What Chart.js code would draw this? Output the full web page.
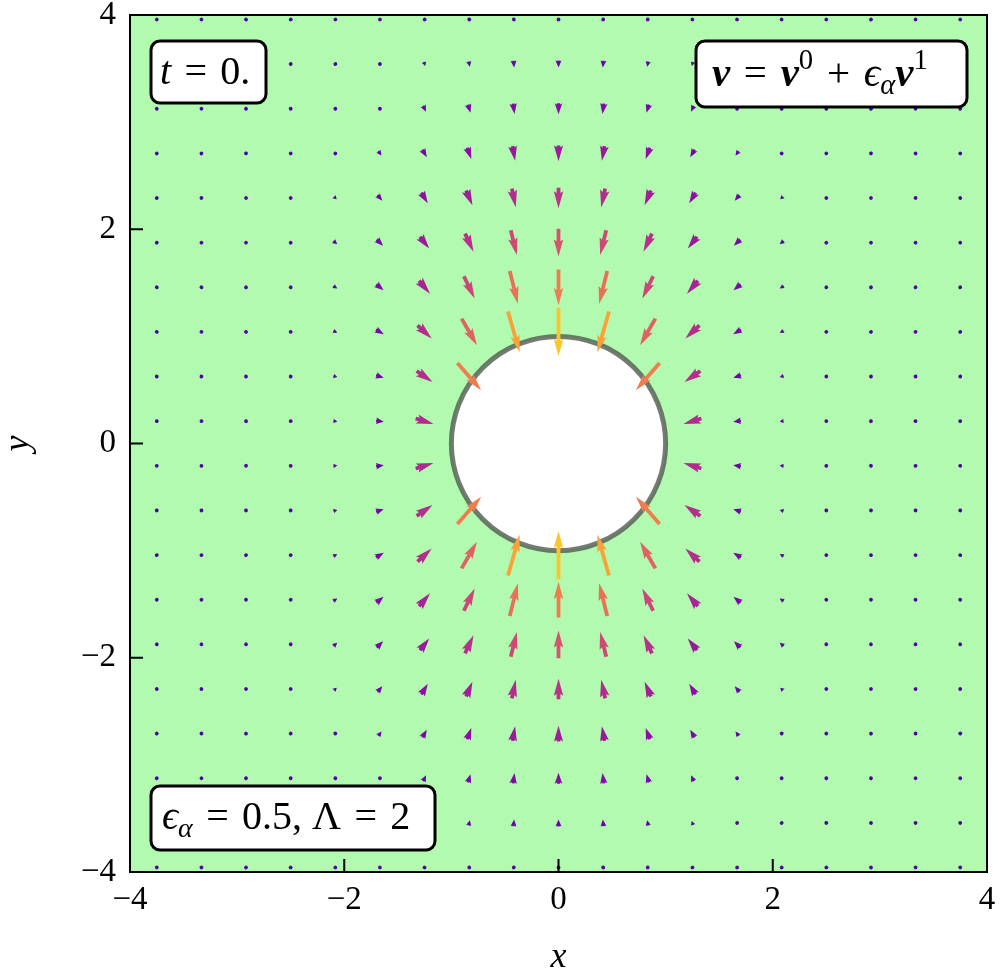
<!DOCTYPE html>
<html>
<head>
<meta charset="utf-8">
<script src="https://cdn.jsdelivr.net/npm/chart.js@4.4.0/dist/chart.umd.min.js"></script>
<style>
  html, body { margin: 0; padding: 0; background: #fff; }
</style>
</head>
<body>
<canvas id="quiverChart" width="1000" height="971"></canvas>
<script>
// grid of arrow centres
const xs = [-3.75, -3.333, -2.917, -2.5, -2.083, -1.667, -1.25, -0.833, -0.417, 0,
            0.417, 0.833, 1.25, 1.667, 2.083, 2.5, 2.917, 3.333, 3.75];
const ys = [3.958, 3.542, 3.125, 2.708, 2.292, 1.875, 1.458, 1.042, 0.625, 0.208,
            -0.208, -0.625, -1.042, -1.458, -1.875, -2.292, -2.708, -3.125, -3.542, -3.958];

// arrow x components, one row per ys value (null = inside the disc)
const U = [
  [-.011,-.011,-.009,.003,.003,.004,.004,.003,.002,0,-.002,-.003,-.004,-.004,-.003,-.003,.009,.011,.011],
  [-.011,-.011,-.008,.005,.007,.010,.012,.010,.006,0,-.006,-.010,-.012,-.010,-.007,-.005,.008,.011,.011],
  [-.010,-.010,-.006,.009,.012,.017,.025,.024,.013,0,-.013,-.024,-.025,-.017,-.012,-.009,.006,.010,.010],
  [-.009,-.008,.005,.014,.018,.029,.041,.038,.024,0,-.024,-.038,-.041,-.029,-.018,-.014,-.005,.008,.009],
  [-.008,.008,.013,.018,.026,.044,.059,.059,.037,0,-.037,-.059,-.059,-.044,-.026,-.018,-.013,-.008,.008],
  [-.006,.012,.015,.021,.036,.059,.086,.079,.057,0,-.057,-.079,-.086,-.059,-.036,-.021,-.015,-.012,.006],
  [.010,.013,.016,.023,.037,.067,.102,.101,.076,0,-.076,-.101,-.102,-.067,-.037,-.023,-.016,-.013,-.010],
  [.011,.014,.017,.025,.036,.073,.132,.143,.109,0,-.109,-.143,-.132,-.073,-.036,-.025,-.017,-.014,-.011],
  [.012,.015,.018,.027,.036,.071,.148,.221,null,null,null,-.221,-.148,-.071,-.036,-.027,-.018,-.015,-.012],
  [.012,.016,.019,.028,.037,.071,.167,null,null,null,null,null,-.167,-.071,-.037,-.028,-.019,-.016,-.012],
  [.012,.016,.019,.028,.037,.071,.167,null,null,null,null,null,-.167,-.071,-.037,-.028,-.019,-.016,-.012],
  [.012,.015,.018,.027,.036,.071,.148,.221,null,null,null,-.221,-.148,-.071,-.036,-.027,-.018,-.015,-.012],
  [.011,.014,.017,.025,.036,.073,.132,.143,.109,0,-.109,-.143,-.132,-.073,-.036,-.025,-.017,-.014,-.011],
  [.010,.013,.016,.023,.037,.067,.102,.101,.076,0,-.076,-.101,-.102,-.067,-.037,-.023,-.016,-.013,-.010],
  [-.006,.012,.015,.021,.036,.059,.086,.079,.057,0,-.057,-.079,-.086,-.059,-.036,-.021,-.015,-.012,.006],
  [-.008,.008,.013,.018,.026,.044,.059,.059,.037,0,-.037,-.059,-.059,-.044,-.026,-.018,-.013,-.008,.008],
  [-.009,-.008,.005,.014,.018,.029,.041,.038,.024,0,-.024,-.038,-.041,-.029,-.018,-.014,-.005,.008,.009],
  [-.010,-.010,-.006,.009,.012,.017,.025,.024,.013,0,-.013,-.024,-.025,-.017,-.012,-.009,.006,.010,.010],
  [-.011,-.011,-.008,.005,.007,.010,.012,.010,.006,0,-.006,-.010,-.012,-.010,-.007,-.005,.008,.011,.011],
  [-.011,-.011,-.009,.003,.003,.004,.004,.003,.002,0,-.002,-.003,-.004,-.004,-.003,-.003,.009,.011,.011]
];

// arrow y components
const V = [
  [-.011,-.011,-.012,-.015,-.018,-.021,-.024,-.028,-.031,-.031,-.031,-.028,-.024,-.021,-.018,-.015,-.012,-.011,-.011],
  [-.011,-.011,-.013,-.018,-.021,-.026,-.038,-.049,-.062,-.065,-.062,-.049,-.038,-.026,-.021,-.018,-.013,-.011,-.011],
  [-.009,-.010,-.013,-.016,-.022,-.030,-.054,-.077,-.096,-.103,-.096,-.077,-.054,-.030,-.022,-.016,-.013,-.010,-.009],
  [-.008,-.010,-.014,-.017,-.021,-.041,-.070,-.105,-.135,-.146,-.135,-.105,-.070,-.041,-.021,-.017,-.014,-.010,-.008],
  [-.009,-.013,-.013,-.018,-.026,-.053,-.099,-.138,-.174,-.193,-.174,-.138,-.099,-.053,-.026,-.018,-.013,-.013,-.009],
  [-.010,-.010,-.012,-.018,-.030,-.059,-.110,-.169,-.230,-.259,-.230,-.169,-.110,-.059,-.030,-.018,-.012,-.010,-.010],
  [-.007,-.009,-.011,-.016,-.024,-.056,-.122,-.207,-.305,-.333,-.305,-.207,-.122,-.056,-.024,-.016,-.011,-.009,-.007],
  [-.005,-.007,-.008,-.012,-.017,-.042,-.123,-.248,-.381,-.452,-.381,-.248,-.123,-.042,-.017,-.012,-.008,-.007,-.005],
  [-.003,-.004,-.005,-.007,-.010,-.023,-.104,-.254,null,null,null,-.254,-.104,-.023,-.010,-.007,-.005,-.004,-.003],
  [-.001,-.001,-.002,-.002,-.003,-.009,-.051,null,null,null,null,null,-.051,-.009,-.003,-.002,-.002,-.001,-.001],
  [.001,.001,.002,.002,.003,.009,.051,null,null,null,null,null,.051,.009,.003,.002,.002,.001,.001],
  [.003,.004,.005,.007,.010,.023,.104,.254,null,null,null,.254,.104,.023,.010,.007,.005,.004,.003],
  [.005,.007,.008,.012,.017,.042,.123,.248,.381,.452,.381,.248,.123,.042,.017,.012,.008,.007,.005],
  [.007,.009,.011,.016,.024,.056,.122,.207,.305,.333,.305,.207,.122,.056,.024,.016,.011,.009,.007],
  [.010,.010,.012,.018,.030,.059,.110,.169,.230,.259,.230,.169,.110,.059,.030,.018,.012,.010,.010],
  [.009,.013,.013,.018,.026,.053,.099,.138,.174,.193,.174,.138,.099,.053,.026,.018,.013,.013,.009],
  [.008,.010,.014,.017,.021,.041,.070,.105,.135,.146,.135,.105,.070,.041,.021,.017,.014,.010,.008],
  [.009,.010,.013,.016,.022,.030,.054,.077,.096,.103,.096,.077,.054,.030,.022,.016,.013,.010,.009],
  [.011,.011,.013,.018,.021,.026,.038,.049,.062,.065,.062,.049,.038,.026,.021,.018,.013,.011,.011],
  [.011,.011,.012,.015,.018,.021,.024,.028,.031,.031,.031,.028,.024,.021,.018,.015,.012,.011,.011]
];

const axisTicks = [-4, -2, 0, 2, 4];
const diskRadius = 1;

const SERIF = '"Liberation Serif", "DejaVu Serif", serif';
const SP = "\u2004";

// plasma colour map stops
const plasmaStops = [[13,8,135],[65,4,157],[106,0,168],[143,13,164],[177,42,144],[204,71,120],
                     [225,100,98],[242,132,75],[252,166,54],[252,206,37],[240,249,33]];
function plasma(t) {
    t = Math.max(0, Math.min(1, t));
    var s = t * 10, i = Math.min(9, Math.floor(s)), f = s - i;
    var c0 = plasmaStops[i], c1 = plasmaStops[i + 1];
    var r = Math.round(c0[0] + (c1[0] - c0[0]) * f);
    var g = Math.round(c0[1] + (c1[1] - c0[1]) * f);
    var b = Math.round(c0[2] + (c1[2] - c0[2]) * f);
    return "rgb(" + r + "," + g + "," + b + ")";
}

// build the point list for the scatter dataset
var points = [];
ys.forEach(function (y, j) {
    xs.forEach(function (x, i) {
        if (U[j][i] === null || V[j][i] === null) return;
        points.push({ x: x, y: y, u: U[j][i], v: V[j][i] });
    });
});
var mags = points.map(function (p) { return Math.hypot(p.u, p.v); });
var mMin = Math.min.apply(null, mags), mMax = Math.max.apply(null, mags);

// quiver style arrow, pivot in the middle; short arrows shrink
function drawArrow(ctx, cx, cy, dx, dy) {
    var L = Math.hypot(dx, dy);
    var w = 3.8, hl = 4.5 * w, hal = 4 * w, hw = 2.5 * w;
    ctx.save();
    ctx.translate(cx, cy);
    ctx.rotate(Math.atan2(dy, dx));
    ctx.beginPath();
    if (L < w) {
        ctx.arc(0, 0, w / 2, 0, Math.PI * 2);
    } else {
        var len = L, s = 1, sw = 1;
        if (L < hl) { s = L / hl; sw = Math.sqrt(s); len = hl; }
        var pts = [[0, -w / 2], [len - hal, -w / 2], [len - hl, -hw / 2], [len, 0],
                   [len - hl, hw / 2], [len - hal, w / 2], [0, w / 2]];
        pts.forEach(function (p, k) {
            var X = (p[0] - len / 2) * s, Y = p[1] * sw;
            if (k === 0) ctx.moveTo(X, Y); else ctx.lineTo(X, Y);
        });
        ctx.closePath();
    }
    ctx.fill();
    ctx.restore();
}

// text with italic / bold / sub / sup runs
function drawRuns(ctx, runs, x, y, size) {
    var cx = x;
    ctx.textBaseline = "alphabetic";
    ctx.textAlign = "left";
    runs.forEach(function (r) {
        var sz = (r.sub || r.sup) ? size * 0.7 : size;
        ctx.font = (r.style || "") + " " + (r.weight || "") + " " + sz + "px " + SERIF;
        var dy = r.sup ? -size * 0.42 : (r.sub ? size * 0.2 : 0);
        ctx.fillStyle = "#000";
        ctx.fillText(r.t, cx, y + dy);
        cx += ctx.measureText(r.t).width;
    });
}

function roundBox(ctx, x, y, w, h, rad) {
    ctx.beginPath();
    ctx.roundRect(x, y, w, h, rad);
    ctx.fillStyle = "#fff";
    ctx.fill();
    ctx.lineWidth = 3;
    ctx.strokeStyle = "#000";
    ctx.stroke();
}

var quiverPlugin = {
    id: "quiver",
    beforeDatasetsDraw: function (chart) {
        var ctx = chart.ctx, a = chart.chartArea;
        var sx = chart.scales.x, sy = chart.scales.y;
        ctx.save();
        ctx.fillStyle = "rgb(178,250,176)";
        ctx.fillRect(a.left, a.top, a.right - a.left, a.bottom - a.top);
        var cx = sx.getPixelForValue(0), cy = sy.getPixelForValue(0);
        var r = sx.getPixelForValue(diskRadius) - cx;
        ctx.beginPath();
        ctx.arc(cx, cy, r, 0, Math.PI * 2);
        ctx.fillStyle = "#fff";
        ctx.fill();
        ctx.lineWidth = 5;
        ctx.strokeStyle = "rgba(80,90,80,0.8)";
        ctx.stroke();
        ctx.restore();
    },
    afterDatasetsDraw: function (chart) {
        var ctx = chart.ctx, a = chart.chartArea;
        var sx = chart.scales.x, sy = chart.scales.y;
        ctx.save();
        ctx.beginPath();
        ctx.rect(a.left, a.top, a.right - a.left, a.bottom - a.top);
        ctx.clip();
        points.forEach(function (p, k) {
            var px = sx.getPixelForValue(p.x), py = sy.getPixelForValue(p.y);
            var dx = sx.getPixelForValue(p.x + p.u) - px;
            var dy = sy.getPixelForValue(p.y + p.v) - py;
            var t = 0.12 + 0.76 * (mags[k] - mMin) / (mMax - mMin);
            ctx.fillStyle = plasma(t);
            drawArrow(ctx, px, py, dx, dy);
        });
        ctx.restore();

        // frame and inward ticks
        ctx.save();
        ctx.strokeStyle = "#000";
        ctx.lineWidth = 2;
        ctx.strokeRect(a.left, a.top, a.right - a.left, a.bottom - a.top);
        ctx.beginPath();
        axisTicks.forEach(function (v) {
            var px = sx.getPixelForValue(v);
            ctx.moveTo(px, a.bottom);
            ctx.lineTo(px, a.bottom - 13);
            var py = sy.getPixelForValue(v);
            ctx.moveTo(a.left, py);
            ctx.lineTo(a.left + 13, py);
        });
        ctx.stroke();

        // annotation boxes
        roundBox(ctx, 151, 41, 115, 62, 9);
        drawRuns(ctx, [{ t: "t", style: "italic" }, { t: SP + "=" + SP + "0." }], 160, 84, 40);

        roundBox(ctx, 696, 41, 271, 66, 9);
        drawRuns(ctx, [
            { t: "v", style: "italic", weight: "bold" }, { t: SP + "=" + SP },
            { t: "v", style: "italic", weight: "bold" }, { t: "0", sup: true },
            { t: SP + "+" + SP }, { t: "\u03f5", style: "italic" }, { t: "\u03b1", style: "italic", sub: true },
            { t: "v", style: "italic", weight: "bold" }, { t: "1", sup: true }
        ], 712, 86, 41);

        roundBox(ctx, 151, 786, 284, 64, 9);
        drawRuns(ctx, [
            { t: "\u03f5", style: "italic" }, { t: "\u03b1", style: "italic", sub: true },
            { t: SP + "=" + SP + "0.5, \u039b" + SP + "=" + SP + "2" }
        ], 162, 829, 40);
        ctx.restore();
    }
};

function minus(v) { return String(v).replace("-", "\u2212"); }

var canvas = document.getElementById("quiverChart");
var ctx = canvas.getContext("2d");
canvas.chart = new Chart(ctx, {
    type: "scatter",
    data: {
        datasets: [{
            label: "velocity",
            data: points,
            pointRadius: 0,
            pointHoverRadius: 0,
        }],
    },
    options: {
        responsive: false,
        animation: false,
        devicePixelRatio: 1,
        layout: { padding: { left: 0, right: 13, top: 15, bottom: 0 } },
        plugins: {
            legend: { display: false },
            tooltip: { enabled: false },
        },
        scales: {
            x: {
                type: "linear",
                min: -4,
                max: 4,
                afterBuildTicks: function (scale) { scale.ticks = axisTicks.map(function (v) { return { value: v }; }); },
                afterFit: function (scale) { scale.height = 99; scale.paddingLeft = 0; scale.paddingRight = 0; },
                grid: { display: false, drawTicks: false },
                border: { display: false },
                ticks: {
                    color: "#000",
                    padding: 9,
                    maxRotation: 0,
                    font: { family: SERIF, size: 33 },
                    callback: function (v) { return minus(v); },
                },
                title: {
                    display: true,
                    text: "x",
                    color: "#000",
                    font: { family: SERIF, size: 36, style: "italic", lineHeight: 0.6 },
                    padding: { top: 0, bottom: 3 },
                },
            },
            y: {
                type: "linear",
                min: -4,
                max: 4,
                afterBuildTicks: function (scale) { scale.ticks = axisTicks.map(function (v) { return { value: v }; }); },
                afterFit: function (scale) { scale.width = 130; scale.paddingTop = 0; scale.paddingBottom = 0; },
                grid: { display: false, drawTicks: false },
                border: { display: false },
                ticks: {
                    color: "#000",
                    padding: 14,
                    font: { family: SERIF, size: 33 },
                    callback: function (v) { return minus(v); },
                },
                title: {
                    display: true,
                    text: "y",
                    color: "#000",
                    font: { family: SERIF, size: 36, style: "italic", lineHeight: 1 },
                    padding: { top: 1, bottom: 0 },
                },
            },
        },
    },
    plugins: [quiverPlugin],
});
</script>
</body>
</html>
